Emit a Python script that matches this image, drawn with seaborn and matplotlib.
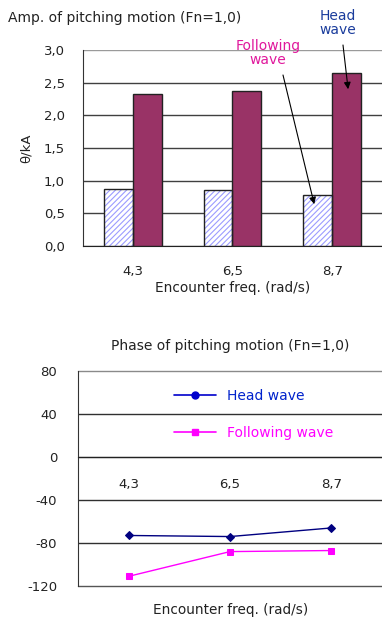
import numpy as np
import pandas as pd
import matplotlib
matplotlib.use("Agg")
import matplotlib.pyplot as plt
from matplotlib.patches import Rectangle
from matplotlib.lines import Line2D
from matplotlib.ticker import FixedLocator
import seaborn as sns

# ── Datos ─────────────────────────────────────────────────────────────────────
freqs = ["4,3", "6,5", "8,7"]
amp_following = [0.88, 0.85, 0.78]
amp_head = [2.33, 2.38, 2.65]
phase_head = [-73, -74, -66]
phase_following = [-111, -88, -87]
amp_yticks = [0.0, 0.5, 1.0, 1.5, 2.0, 2.5, 3.0]
amp_ylabels = ["0,0", "0,5", "1,0", "1,5", "2,0", "2,5", "3,0"]
phase_yticks = [-120, -80, -40, 0, 40, 80]

HEAD_BAR = "#993366"
HATCH = "#9b9bff"
HEAD_LINE = "#000080"
FOLLOW_LINE = "#ff00ff"

sns.set_style("white")
plt.rcParams["font.family"] = ["DejaVu Sans"]
plt.rcParams["hatch.linewidth"] = 0.8
plt.rcParams["axes.unicode_minus"] = False

fig = plt.figure(figsize=(3.82, 6.23), dpi=100)

# ── 1. Amplitud ──────────────────────────────────────────────────────────────
ax1 = fig.add_axes([83 / 382, 1 - 246 / 623, 299 / 382, 196 / 623])
df_amp = pd.DataFrame({
    "freq": freqs * 2,
    "amp": amp_following + amp_head,
    "wave": ["Following wave"] * 3 + ["Head wave"] * 3,
})
sns.barplot(data=df_amp, x="freq", y="amp", hue="wave",
            hue_order=["Following wave", "Head wave"],
            palette={"Following wave": "white", "Head wave": HEAD_BAR},
            saturation=1, width=0.58, edgecolor="#222222", linewidth=1.0,
            legend=False, ax=ax1, zorder=3)

# barras "Following" rayadas: relleno con trama + contorno aparte
bars = list(ax1.patches)
for p in bars:
    if p.get_facecolor()[:3] == (1.0, 1.0, 1.0):
        p.set_hatch("//////")
        p.set_edgecolor(HATCH)
        p.set_linewidth(0)
        ax1.add_patch(Rectangle(p.get_xy(), p.get_width(), p.get_height(),
                                fill=False, edgecolor="#222222", lw=1.0, zorder=4))

ax1.set_xlim(-0.5, 2.5)
ax1.set_ylim(0, 3.0)
ax1.yaxis.set_major_locator(FixedLocator(amp_yticks))
ax1.set_yticklabels(amp_ylabels)
ax1.yaxis.grid(True, color="#404040", lw=1.0, zorder=0)
ax1.get_ygridlines()[-1].set_color("#9a9a9a")
ax1.set_axisbelow(True)
for s in ["top", "right"]:
    ax1.spines[s].set_visible(False)
ax1.spines["left"].set_color("#333333")
ax1.spines["bottom"].set_color("#222222")
ax1.xaxis.set_minor_locator(FixedLocator([0.5, 1.5]))
ax1.tick_params(axis="x", which="major", length=0, pad=14, labelsize=9.5, colors="#222222")
ax1.tick_params(axis="x", which="minor", length=4, direction="in", color="#222222")
ax1.tick_params(axis="y", length=0, pad=13, labelsize=9.5, colors="#222222")
ax1.set_xlabel("Encounter freq. (rad/s)", fontsize=9.8, labelpad=2, color="#222222")
ax1.set_ylabel("θ/kA", fontsize=9.5, labelpad=8, color="#222222")

fig.text(8 / 382, 1 - 18 / 623, "Amp. of pitching motion (Fn=1,0)",
         fontsize=10, ha="left", va="center", color="#222222")
fig.text(338 / 382, 1 - 23 / 623, "Head\nwave", fontsize=10, color="#1a3c9c",
         ha="center", va="center", linespacing=1.05)
fig.text(268 / 382, 1 - 53 / 623, "Following\nwave", fontsize=10, color="#e0189c",
         ha="center", va="center", linespacing=1.05)
ax1.annotate("", xy=(2.16, 2.40), xytext=(343 / 382, 1 - 45 / 623),
             textcoords="figure fraction",
             arrowprops=dict(arrowstyle="-|>", color="black", lw=0.8,
                             mutation_scale=10, shrinkA=0, shrinkB=0), zorder=6)
ax1.annotate("", xy=(1.82, 0.64), xytext=(283 / 382, 1 - 75 / 623),
             textcoords="figure fraction",
             arrowprops=dict(arrowstyle="-|>", color="black", lw=0.8,
                             mutation_scale=10, shrinkA=0, shrinkB=0), zorder=6)

# ── 2. Fase ──────────────────────────────────────────────────────────────────
ax2 = fig.add_axes([78 / 382, 1 - 586 / 623, 304 / 382, 215 / 623])
pos = np.arange(len(freqs))
sns.lineplot(x=pos, y=phase_head, color=HEAD_LINE, lw=1.0, marker="D",
             markersize=4.5, markeredgecolor=HEAD_LINE, ax=ax2, zorder=3)
sns.lineplot(x=pos, y=phase_following, color=FOLLOW_LINE, lw=1.0, marker="s",
             markersize=5, markeredgecolor=FOLLOW_LINE, ax=ax2, zorder=3)

ax2.set_xlim(-0.5, 2.5)
ax2.set_ylim(-120, 80)
ax2.set_xticks(pos)
ax2.set_xticklabels(freqs)
ax2.yaxis.set_major_locator(FixedLocator(phase_yticks))
ax2.yaxis.grid(True, color="#303030", lw=1.0, zorder=0)
gl = ax2.get_ygridlines()
gl[0].set_color("#555555")
gl[0].set_clip_on(False)
gl[-1].set_color("#8a8a8a")
gl[-1].set_clip_on(False)
ax2.set_axisbelow(True)
for s in ["top", "right"]:
    ax2.spines[s].set_visible(False)
ax2.spines["bottom"].set_position(("data", 0))
ax2.spines["bottom"].set_color("#222222")
ax2.spines["left"].set_color("#333333")
ax2.xaxis.set_minor_locator(FixedLocator([0.5, 1.5]))
ax2.tick_params(axis="x", which="major", length=0, pad=15, labelsize=9.5, colors="#222222")
ax2.tick_params(axis="x", which="minor", length=4, direction="in", color="#222222")
ax2.tick_params(axis="y", length=0, pad=15, labelsize=9.5, colors="#222222")

fig.text(230 / 382, 1 - 346 / 623, "Phase of pitching motion (Fn=1,0)",
         fontsize=10, ha="center", va="center", color="#222222")
fig.text(231 / 382, 1 - 610 / 623, "Encounter freq. (rad/s)",
         fontsize=9.8, ha="center", va="center", color="#222222")

handles = [
    Line2D([], [], color="#0000cc", lw=1.2, marker="o", markersize=5),
    Line2D([], [], color=FOLLOW_LINE, lw=1.2, marker="s", markersize=5),
]
leg = ax2.legend(handles, ["Head wave", "Following wave"], loc="upper left",
                 bbox_to_anchor=(0.293, 0.95), frameon=False, borderpad=0,
                 handlelength=3.0, handletextpad=0.85, labelspacing=1.7,
                 fontsize=10)
for txt, c in zip(leg.get_texts(), ["#0022cc", FOLLOW_LINE]):
    txt.set_color(c)

fig.savefig("out.png", dpi=100)
